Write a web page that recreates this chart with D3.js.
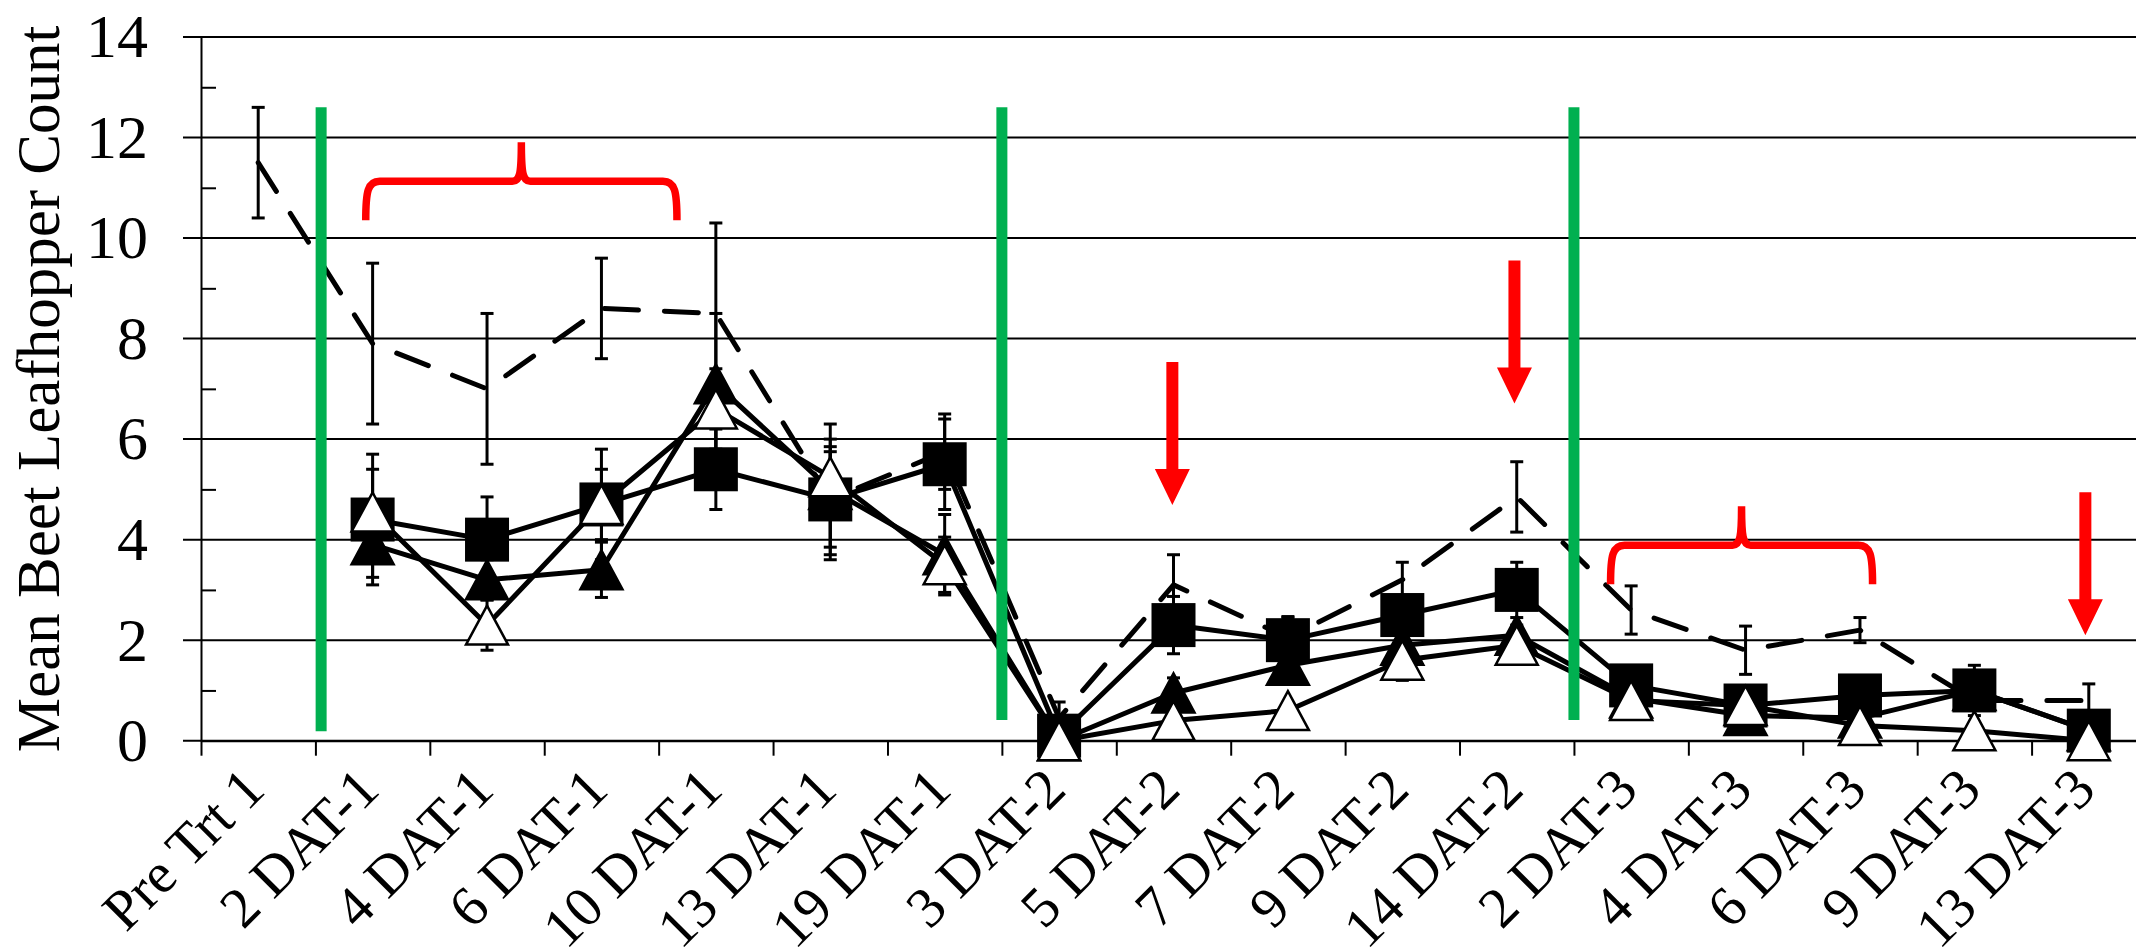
<!DOCTYPE html>
<html>
<head>
<meta charset="utf-8">
<script src="https://cdn.jsdelivr.net/npm/d3@7"></script>
<style>
  html, body { margin: 0; padding: 0; background: #fff; }
  svg { display: block; }
  text { font-family: "Liberation Serif", "Times New Roman", serif; fill: #000; }
</style>
</head>
<body>
<div id="chart"></div>
<script>
// data //
const categories = ["Pre Trt 1", "2 DAT-1", "4 DAT-1", "6 DAT-1", "10 DAT-1", "13 DAT-1", "19 DAT-1",
  "3 DAT-2", "5 DAT-2", "7 DAT-2", "9 DAT-2", "14 DAT-2", "2 DAT-3", "4 DAT-3", "6 DAT-3", "9 DAT-3", "13 DAT-3"];

// untreated check (dashed, no marker)
const checkMean = [11.5, 7.9, 7.0, 8.6, 8.5, 4.8, 5.75, 0.45, 3.1, 2.05, 3.2, 4.85, 2.6, 1.8, 2.2, 0.8, 0.8];
const checkErr  = [1.1, 1.6, 1.5, 1.0, 1.8, 1.2, 0.75, 0.32, 0.6, 0.42, 0.35, 0.7, 0.48, 0.48, 0.25, 0.2, 0.33];

// filled squares
const squareMean = [null, 4.4, 4.0, 4.7, 5.4, 4.8, 5.5, 0.1, 2.3, 2.0, 2.5, 3.0, 1.1, 0.7, 0.9, 1.0, 0.2];
const squareErr  = [null, 1.3, 0.85, 1.1, 0.8, 0.95, 0.9, 0.1, 0.57, 0.45, 0.3, 0.55, 0.2, 0.2, 0.2, 0.5, 0.2];

// filled triangles
const filledMean = [null, 3.9, 3.2, 3.4, 7.1, 5.0, 3.7, 0.0, 0.95, 1.5, 1.9, 2.1, 0.85, 0.5, 0.45, 1.0, 0.2];
const filledErr  = [null, 0.65, 0.4, 0.55, 1.4, 1.3, 0.8, 0, 0.3, 0.2, 0.2, 0.2, 0.2, 0.2, 0.2, 0.2, 0.2];

// open triangles
const openMean = [null, 4.55, 2.3, 4.7, 6.6, 5.25, 3.5, 0.0, 0.4, 0.6, 1.6, 1.9, 0.8, 0.7, 0.3, 0.2, 0.0];
const openErr  = [null, 0.85, 0.5, 0.7, 0.8, 0.6, 0.55, 0, 0.1, 0.1, 0.4, 0.2, 0.1, 0.1, 0.1, 0.1, 0.1];

const yTicks = [0, 2, 4, 6, 8, 10, 12, 14];
const yMinorTicks = [1, 3, 5, 7, 9, 11, 13];

// annotations, in category-slot units and count units
const sprayAt = [1.05, 7.0, 12.0];
const sprayFrom = [0.19, 0.41, 0.41];
const sprayTo = 12.6;
const braceLeft = [1.44, 12.32];
const braceRight = [4.16, 14.61];
const braceLevel = [11.13, 3.89];
const arrowAt = [8.49, 11.48, 16.47];
const arrowTip = [4.69, 6.71, 2.10];

///set dimensions//////////////////////////////////////////////////
const W = 2136, H = 948;
const plotLeft = 201, plotRight = 2146, plotTop = 37, plotBottom = 740.7;

const svg = d3.select("#chart").append("svg")
  .attr("width", W)
  .attr("height", H);

const x = d3.scaleBand().domain(categories).range([plotLeft, plotRight]);
const slot = d3.scaleLinear().domain([0, categories.length]).range([plotLeft, plotRight]);
const y = d3.scaleLinear().domain([0, 14]).range([plotBottom, plotTop]);
const cx = c => x(c) + x.bandwidth() / 2;

// gridlines (they also poke out left of the axis as major ticks)
svg.append("g")
  .selectAll("line")
  .data(yTicks)
  .join("line")
  .attr("x1", plotLeft - 18)
  .attr("x2", plotRight)
  .attr("y1", d => y(d))
  .attr("y2", d => y(d))
  .attr("stroke", "#000")
  .attr("stroke-width", 2);

// Y axis
const yAxisGroup = svg.append("g")
  .attr("transform", `translate(${plotLeft},0)`)
  .call(d3.axisLeft(y).tickValues(yTicks).tickSize(0).tickSizeOuter(0).tickPadding(53).tickFormat(d3.format("d")));
yAxisGroup.select(".domain").attr("stroke", "#000").attr("stroke-width", 2);
yAxisGroup.selectAll("text")
  .attr("font-family", "'Liberation Serif', 'Times New Roman', serif")
  .attr("font-size", 62)
  .attr("fill", "#000");

// minor ticks inside the plot
const yMinor = svg.append("g")
  .attr("transform", `translate(${plotLeft},0)`)
  .call(d3.axisRight(y).tickValues(yMinorTicks).tickSize(15).tickFormat(""));
yMinor.select(".domain").remove();
yMinor.selectAll(".tick line").attr("stroke", "#000").attr("stroke-width", 2);

// X axis, ticks at category boundaries
const xAxisGroup = svg.append("g")
  .attr("transform", `translate(0,${plotBottom})`)
  .call(d3.axisBottom(slot).tickValues(d3.range(0, categories.length + 1)).tickSize(15).tickSizeOuter(0).tickFormat(""));
xAxisGroup.select(".domain").attr("stroke", "#000").attr("stroke-width", 2);
xAxisGroup.selectAll(".tick line").attr("stroke", "#000").attr("stroke-width", 2);

// rotated category labels
svg.append("g")
  .selectAll("text")
  .data(categories)
  .join("text")
  .attr("transform", d => `translate(${cx(d) + 9},792) rotate(-45)`)
  .attr("text-anchor", "end")
  .attr("font-size", 57)
  .text(d => d);

// Y axis title
svg.append("text")
  .attr("transform", `translate(59,${(plotTop + plotBottom) / 2}) rotate(-90)`)
  .attr("text-anchor", "middle")
  .attr("font-size", 61)
  .text("Mean Beet Leafhopper Count");

// series //
const series = [
  { mean: checkMean, err: checkErr, marker: null, dash: "34,26" },
  { mean: squareMean, err: squareErr, marker: "square", dash: null },
  { mean: filledMean, err: filledErr, marker: "filled", dash: null },
  { mean: openMean, err: openErr, marker: "open", dash: null }
];
series.forEach(s => {
  s.points = categories.map((c, i) => ({ c: c, v: s.mean[i], e: s.err[i] }));
});

// error bars
const errG = svg.append("g");
series.forEach(s => {
  const pts = s.points.filter(d => d.v != null && d.e > 0);
  const g = errG.append("g").attr("stroke", "#000").attr("stroke-width", 3);
  g.selectAll(".bar").data(pts).join("line")
    .attr("x1", d => cx(d.c)).attr("x2", d => cx(d.c))
    .attr("y1", d => y(d.v + d.e)).attr("y2", d => y(d.v - d.e));
  g.selectAll(".capTop").data(pts).join("line").attr("class", "capTop")
    .attr("x1", d => cx(d.c) - 6.5).attr("x2", d => cx(d.c) + 6.5)
    .attr("y1", d => y(d.v + d.e)).attr("y2", d => y(d.v + d.e));
  g.selectAll(".capBot").data(pts).join("line").attr("class", "capBot")
    .attr("x1", d => cx(d.c) - 6.5).attr("x2", d => cx(d.c) + 6.5)
    .attr("y1", d => y(d.v - d.e)).attr("y2", d => y(d.v - d.e));
});

// lines
const line = d3.line()
  .defined(d => d.v != null)
  .x(d => cx(d.c))
  .y(d => y(d.v));

series.forEach(s => {
  svg.append("path")
    .datum(s.points)
    .attr("fill", "none")
    .attr("stroke", "#000")
    .attr("stroke-width", 5)
    .attr("stroke-linejoin", "round")
    .attr("stroke-linecap", s.dash ? "round" : "butt")
    .attr("stroke-dasharray", s.dash)
    .attr("d", line);
});

// markers
const triPath = "M0,-19.5 L21,19.5 L-21,19.5 Z";
series.filter(s => s.marker).forEach(s => {
  const pts = s.points.filter(d => d.v != null);
  const g = svg.append("g");
  if (s.marker === "square") {
    g.selectAll("rect").data(pts).join("rect")
      .attr("x", d => cx(d.c) - 22).attr("y", d => y(d.v) - 22)
      .attr("width", 44).attr("height", 44)
      .attr("fill", "#000");
  } else {
    g.selectAll("path").data(pts).join("path")
      .attr("transform", d => `translate(${cx(d.c)},${y(d.v)})`)
      .attr("d", triPath)
      .attr("fill", s.marker === "open" ? "#fff" : "#000")
      .attr("stroke", "#000")
      .attr("stroke-width", 2.5);
  }
});

// green application lines
svg.append("g")
  .selectAll("line")
  .data(sprayAt)
  .join("line")
  .attr("x1", d => slot(d)).attr("x2", d => slot(d))
  .attr("y1", y(sprayTo))
  .attr("y2", (d, i) => y(sprayFrom[i]))
  .attr("stroke", "#00B050")
  .attr("stroke-width", 11);

// red braces
function bracePath(xl, xr, yb) {
  const h = 39, xm = (xl + xr) / 2;
  return `M${xl},${yb + h} C${xl},${yb + 10} ${xl + 2},${yb} ${xl + 14},${yb}` +
    ` L${xm - 9},${yb} C${xm - 1},${yb} ${xm},${yb - 10} ${xm},${yb - h}` +
    ` C${xm},${yb - 10} ${xm + 1},${yb} ${xm + 9},${yb}` +
    ` L${xr - 14},${yb} C${xr - 2},${yb} ${xr},${yb + 10} ${xr},${yb + h}`;
}
svg.append("g")
  .selectAll("path")
  .data(braceLevel)
  .join("path")
  .attr("d", (d, i) => bracePath(slot(braceLeft[i]), slot(braceRight[i]), y(d)))
  .attr("fill", "none")
  .attr("stroke", "#FF0000")
  .attr("stroke-width", 7.5);

// red arrows
function arrowPath(ax, tip) {
  const len = 143, head = 36, hw = 17.5, sw = 6;
  return `M${ax - sw},${tip - len} L${ax + sw},${tip - len} L${ax + sw},${tip - head}` +
    ` L${ax + hw},${tip - head} L${ax},${tip} L${ax - hw},${tip - head} L${ax - sw},${tip - head} Z`;
}
svg.append("g")
  .selectAll("path")
  .data(arrowTip)
  .join("path")
  .attr("d", (d, i) => arrowPath(slot(arrowAt[i]), y(d)))
  .attr("fill", "#FF0000");
</script>
</body>
</html>
